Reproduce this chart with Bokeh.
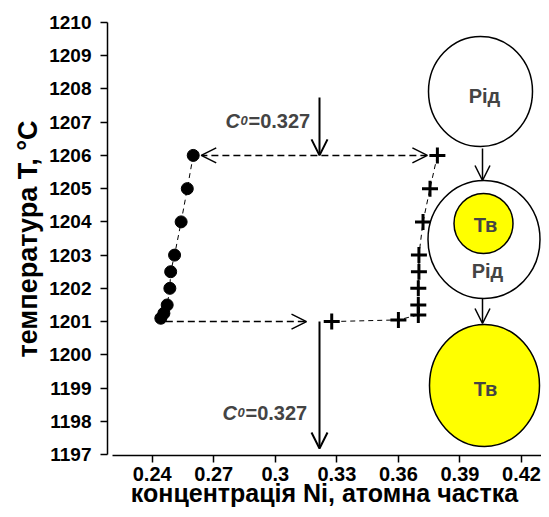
from bokeh.plotting import figure
from bokeh.models import Range1d, Arrow, OpenHead, Label, FixedTicker
from bokeh.embed import file_html
from bokeh.resources import INLINE

# ---------------- data ----------------
liq_T = [1206, 1205, 1204, 1203, 1202.5, 1202, 1201.5, 1201.25, 1201.1]
liq_x = [0.260, 0.2571, 0.2541, 0.2509, 0.2490, 0.2486, 0.2473, 0.2457, 0.2442]
sol_T = [1206, 1205, 1204, 1203, 1202.5, 1202, 1201.5, 1201.2, 1201.05, 1201]
sol_x = [0.379, 0.3754, 0.372, 0.370, 0.370, 0.3697, 0.3697, 0.3697, 0.360, 0.3275]
C0_label = "=0.327"
x_ticks = [0.24, 0.27, 0.30, 0.33, 0.36, 0.39, 0.42]
x_tick_labels = ["0.24", "0.27", "0.3", "0.33", "0.36", "0.39", "0.42"]
y_ticks = list(range(1197, 1211))
x_title = "концентрація Ni, атомна частка"
y_title = "температура T, °C"
phase_liquid = "Рід"
phase_solid = "Тв"

# --------------- layout helpers (canvas px -> data) --------
XPX = 2051.7
YPX = 33.23
def sx(px):
    return 0.24 + (px - 151.7) / XPX
def sy(py):
    return 1210 - (py - 22) / YPX

FONT = "Liberation Sans"
W, H = 541, 509
p = figure(width=W, height=H, output_backend="svg", toolbar_location=None,
           x_range=Range1d(sx(107), sx(541)), y_range=Range1d(sy(455), 1210),
           min_border_left=107, min_border_right=0, min_border_top=22,
           min_border_bottom=54)
p.title.visible = False
p.xgrid.visible = False
p.ygrid.visible = False
p.outline_line_color = None
p.background_fill_color = "white"
p.border_fill_color = "white"

for ax in (p.xaxis[0], p.yaxis[0]):
    ax.axis_line_width = 1.5
    ax.axis_line_color = "black"
    ax.major_tick_line_width = 1.5
    ax.major_tick_line_color = "black"
    ax.major_tick_in = 0
    ax.major_tick_out = 7
    ax.minor_tick_line_color = None
    ax.major_label_text_font = FONT
    ax.major_label_text_font_style = "bold"
    ax.major_label_text_color = "black"
    ax.axis_label_text_font = FONT
    ax.axis_label_text_font_style = "bold"
    ax.axis_label_text_color = "black"

p.xaxis.ticker = FixedTicker(ticks=x_ticks)
p.xaxis.major_label_overrides = {t: l for t, l in zip(x_ticks, x_tick_labels)}
p.xaxis.bounds = (sx(112), sx(541))
p.xaxis.major_label_standoff = 4
p.xaxis.major_label_text_font_size = "20px"
p.xaxis.axis_label = x_title
p.xaxis.axis_label_text_font_size = "25px"
p.xaxis.axis_label_standoff = -5

p.yaxis.ticker = FixedTicker(ticks=y_ticks)
p.yaxis.bounds = (1197, 1210)
p.yaxis.major_label_standoff = 9
p.yaxis.major_label_text_font_size = "19px"
p.yaxis.axis_label = y_title
p.yaxis.axis_label_text_font_size = "27px"
p.yaxis.axis_label_standoff = 3

# --------------- data marks ----------------
p.line(liq_x, liq_T, line_dash="5 4", line_width=1, color="black")
p.line(sol_x, sol_T, line_dash="5 4", line_width=1, color="black")
p.scatter(liq_x, liq_T, marker="circle", size=12, color="black")
p.scatter(sol_x, sol_T, marker="cross", size=16, line_width=3, color="black")

# --------------- arrows ----------------
xv = sx(319)
gap = 1 / XPX
p.add_layout(Arrow(x_start=sol_x[0] - 10 * gap, y_start=sol_T[0],
                   x_end=liq_x[0] + 8 * gap, y_end=liq_T[0],
                   line_dash="7 4", line_width=1.5, line_color="black",
                   start=OpenHead(size=15, line_width=1.5),
                   end=OpenHead(size=15, line_width=1.5)))
p.add_layout(Arrow(x_start=liq_x[-1] + 5 * gap, y_start=sol_T[-1],
                   x_end=xv - 13 * gap, y_end=sol_T[-1],
                   line_dash="7 4", line_width=1.5, line_color="black",
                   end=OpenHead(size=15, line_width=1.5)))
p.add_layout(Arrow(x_start=xv, y_start=sy(97), x_end=xv, y_end=sol_T[0],
                   line_width=2, line_color="black",
                   end=OpenHead(size=16, line_width=2)))
p.add_layout(Arrow(x_start=xv, y_start=sol_T[-1], x_end=xv, y_end=sy(448),
                   line_width=2, line_color="black",
                   end=OpenHead(size=16, line_width=2)))

# C0 labels
for bx, by in ((225, 120), (222, 412)):
    p.add_layout(Label(x=sx(bx), y=sy(by), text="C", text_font=FONT,
                       text_font_style="bold italic", text_font_size="20px",
                       text_baseline="alphabetic"))
    p.add_layout(Label(x=sx(bx + 15), y=sy(by), text="0", text_font=FONT,
                       text_font_style="bold italic", text_font_size="13px",
                       text_baseline="alphabetic"))
    p.add_layout(Label(x=sx(bx + 23), y=sy(by), text=C0_label, text_font=FONT,
                       text_font_style="bold", text_font_size="20px",
                       text_baseline="alphabetic"))

# --------------- phase schematic ----------------
p.ellipse(x=[sx(480)], y=[sy(91)], width=104, height=110,
          width_units="screen", height_units="screen",
          fill_color="white", line_color="black", line_width=1.5)
p.ellipse(x=[sx(483.5)], y=[sy(239)], width=112, height=118,
          width_units="screen", height_units="screen",
          fill_color="white", line_color="black", line_width=1.5)
p.ellipse(x=[sx(483)], y=[sy(223)], width=59, height=60,
          width_units="screen", height_units="screen",
          fill_color="#FFFF00", line_color="black", line_width=1.5)
p.ellipse(x=[sx(484)], y=[sy(385)], width=110, height=122,
          width_units="screen", height_units="screen",
          fill_color="#FFFF00", line_color="black", line_width=1.5)
for tx, ty, t in ((484, 95, phase_liquid), (485, 224, phase_solid),
                  (487, 270, phase_liquid), (485, 388, phase_solid)):
    p.add_layout(Label(x=sx(tx), y=sy(ty), text=t, text_font=FONT,
                       text_font_style="bold", text_font_size="20px",
                       text_align="center", text_baseline="middle"))
p.add_layout(Arrow(x_start=sx(482), y_start=sy(148), x_end=sx(482), y_end=sy(180),
                   line_width=1.5, line_color="black",
                   end=OpenHead(size=15, line_width=1.5)))
p.add_layout(Arrow(x_start=sx(482), y_start=sy(298), x_end=sx(482), y_end=sy(323),
                   line_width=1.5, line_color="black",
                   end=OpenHead(size=15, line_width=1.5)))

open("out.html", "w").write(file_html(p, INLINE))
